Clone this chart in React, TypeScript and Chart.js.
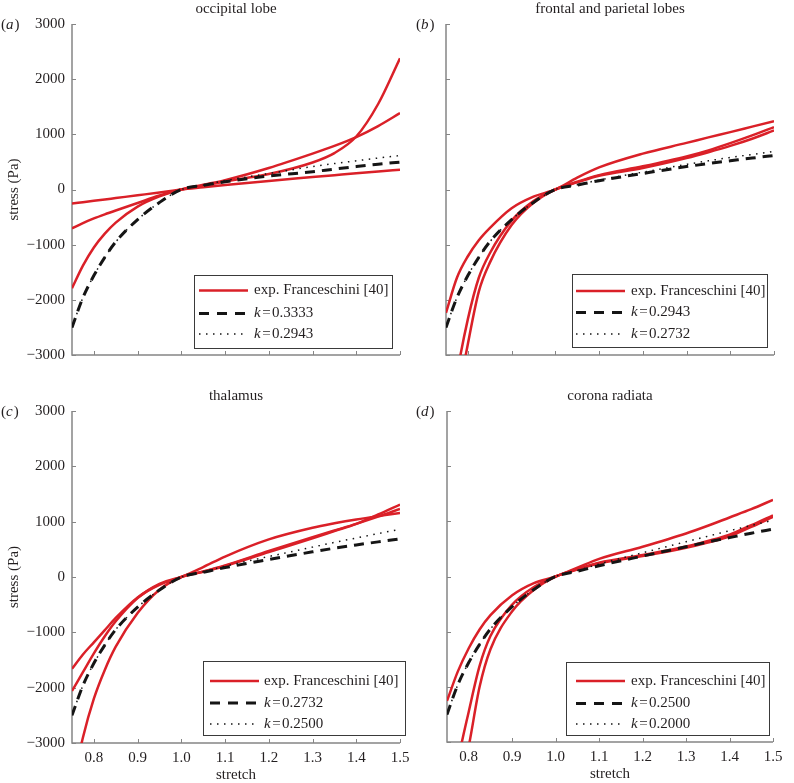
import React, { useEffect, useRef } from 'react';
import { Chart, registerables } from 'chart.js';

Chart.register(...registerables);

// ---------- data ----------
const STRETCH = [0.75, 0.775, 0.8, 0.825, 0.85, 0.9, 0.95, 1.0, 1.05, 1.1, 1.2, 1.3, 1.35, 1.4, 1.45, 1.5];
const X_TICKS = [0.8, 0.9, 1.0, 1.1, 1.2, 1.3, 1.4, 1.5];
const Y_TICKS = [-3000, -2000, -1000, 0, 1000, 2000, 3000];

const TITLES = ['occipital lobe', 'frontal and parietal lobes', 'thalamus', 'corona radiata'];
const PANEL_LETTERS = ['a', 'b', 'c', 'd'];
const LEGEND_EXP = 'exp. Franceschini [40]';
const K_DASH_LABELS = ['0.3333', '0.2943', '0.2732', '0.2500'];
const K_DOT_LABELS = ['0.2943', '0.2732', '0.2500', '0.2000'];
const Y_LABEL = 'stress (Pa)';
const X_LABEL = 'stretch';

// (a) occipital lobe
const A_RED_1 = [-255, -230, -205, -180, -155, -105, -55, 0, 40, 80, 155, 225, 260, 295, 328, 360];
const A_RED_2 = [-705, -610, -525, -450, -380, -245, -110, 0, 85, 170, 390, 650, 790, 950, 1150, 1385];
const A_RED_3 = [-1790, -1380, -1050, -800, -600, -310, -125, 0, 70, 145, 280, 490, 660, 960, 1550, 2380];
const A_K_DASH = [-2500, -1960, -1560, -1230, -950, -545, -235, 0, 75, 140, 245, 322, 370, 415, 458, 497];
const A_K_DOT = [-2500, -1960, -1560, -1230, -950, -545, -235, 0, 80, 160, 290, 415, 470, 520, 570, 615];

// (b) frontal and parietal lobes
const B_RED_1 = [-2235, -1600, -1210, -920, -700, -340, -130, 0, 215, 400, 650, 845, 945, 1040, 1140, 1240];
const B_RED_2 = [-4600, -3350, -2350, -1600, -1160, -565, -210, 0, 140, 260, 420, 600, 710, 840, 980, 1130];
const B_RED_3 = [-5300, -3900, -2800, -1850, -1330, -645, -240, 0, 130, 250, 390, 570, 675, 790, 920, 1070];
const B_K_DASH = [-2500, -1960, -1560, -1230, -950, -545, -235, 0, 80, 160, 290, 415, 470, 520, 570, 615];
const B_K_DOT = [-2500, -1960, -1560, -1230, -950, -545, -235, 0, 85, 170, 315, 455, 520, 580, 635, 690];

// (c) thalamus
const C_RED_1 = [-1660, -1400, -1180, -960, -740, -370, -140, 0, 180, 370, 680, 890, 970, 1040, 1100, 1155];
const C_RED_2 = [-2060, -1720, -1380, -1070, -800, -380, -125, 0, 100, 210, 470, 720, 840, 960, 1090, 1230];
const C_RED_3 = [-3800, -2900, -2200, -1680, -1260, -650, -230, 0, 95, 200, 450, 700, 830, 960, 1130, 1310];
const C_K_DASH = [-2500, -1960, -1560, -1230, -950, -545, -235, 0, 85, 170, 315, 455, 520, 580, 635, 690];
const C_K_DOT = [-2500, -1960, -1560, -1230, -950, -545, -235, 0, 95, 195, 370, 540, 625, 705, 785, 860];

// (d) corona radiata
const D_RED_1 = [-2255, -1720, -1300, -960, -700, -340, -120, 0, 160, 320, 540, 780, 920, 1070, 1220, 1390];
const D_RED_2 = [-4500, -3350, -2450, -1620, -1080, -510, -190, 0, 135, 250, 390, 545, 645, 760, 930, 1110];
const D_RED_3 = [-5200, -4000, -3080, -2000, -1320, -630, -240, 0, 125, 240, 370, 520, 615, 730, 900, 1080];
const D_K_DASH = [-2500, -1960, -1560, -1230, -950, -545, -235, 0, 95, 195, 370, 540, 625, 705, 785, 860];
const D_K_DOT = [-2500, -1960, -1560, -1230, -950, -545, -235, 0, 110, 225, 430, 630, 730, 830, 925, 1020];

// ---------- styling / layout ----------
const W = 794;
const H = 783;
const YW = 60;
const XH = 30;
const RED = 'rgb(218,32,40)';
const BLACK = '#151515';
const AXIS = '#858585';
const TEXT = '#231f20';
const FONT_FAMILY = '"Liberation Serif", "DejaVu Serif", serif';
const FONT_SIZE = 15;
const DASH = [10, 7];
const DOT = [1.5, 5.5];

type Legend = { x0: number; y0: number; x1: number; y1: number; rows: number[]; sx0: number; sx1: number; tx: number };
type Panel = {
  idx: number;
  L: number; T: number; R: number; B: number;
  showX: boolean; showY: boolean;
  labelX: number;
  red: number[][];
  kDash: number[];
  kDot: number[];
  legend: Legend;
};

const PANELS: Panel[] = [
  {
    idx: 0, L: 72, T: 24, R: 400, B: 355, showX: false, showY: true, labelX: 1,
    red: [A_RED_1, A_RED_2, A_RED_3], kDash: A_K_DASH, kDot: A_K_DOT,
    legend: { x0: 194, y0: 275, x1: 392, y1: 348, rows: [290.5, 313.5, 334], sx0: 199, sx1: 248, tx: 254 },
  },
  {
    idx: 1, L: 446, T: 24, R: 774, B: 355, showX: false, showY: false, labelX: 416,
    red: [B_RED_1, B_RED_2, B_RED_3], kDash: B_K_DASH, kDot: B_K_DOT,
    legend: { x0: 572, y0: 274, x1: 767, y1: 347, rows: [291, 312.5, 334], sx0: 576, sx1: 625, tx: 631 },
  },
  {
    idx: 2, L: 72, T: 411, R: 400, B: 743, showX: true, showY: true, labelX: 1,
    red: [C_RED_1, C_RED_2, C_RED_3], kDash: C_K_DASH, kDot: C_K_DOT,
    legend: { x0: 203, y0: 661, x1: 405, y1: 735, rows: [681, 703, 724], sx0: 210, sx1: 259, tx: 264 },
  },
  {
    idx: 3, L: 447, T: 411, R: 773, B: 742, showX: true, showY: false, labelX: 416,
    red: [D_RED_1, D_RED_2, D_RED_3], kDash: D_K_DASH, kDot: D_K_DOT,
    legend: { x0: 566, y0: 662, x1: 769, y1: 735, rows: [681, 703.5, 724], sx0: 576, sx1: 625, tx: 631 },
  },
];

const toXY = (ys: number[]) => STRETCH.map((x, i) => ({ x, y: ys[i] }));
const font = (italic = false) => `${italic ? 'italic ' : ''}${FONT_SIZE}px ${FONT_FAMILY}`;

function makeDecor(p: Panel) {
  return {
    id: 'decor' + p.idx,
    beforeDatasetsDraw(chart: any) {
      const ctx = chart.ctx as CanvasRenderingContext2D;
      const { left, right, top, bottom } = chart.chartArea;
      const xs = chart.scales.x;
      const ys = chart.scales.y;
      ctx.save();
      ctx.strokeStyle = AXIS;
      ctx.lineWidth = 1.5;
      ctx.beginPath();
      ctx.moveTo(left, top);
      ctx.lineTo(left, bottom);
      ctx.lineTo(right, bottom);
      ctx.stroke();
      ctx.lineWidth = 1;
      ctx.beginPath();
      xs.ticks.forEach((t: any) => {
        const px = Math.round(xs.getPixelForValue(t.value)) + 0.5;
        ctx.moveTo(px, bottom);
        ctx.lineTo(px, bottom - 4);
      });
      ys.ticks.forEach((t: any) => {
        const py = Math.round(ys.getPixelForValue(t.value)) + 0.5;
        ctx.moveTo(left, py);
        ctx.lineTo(left + 4, py);
      });
      ctx.stroke();
      ctx.restore();
    },
    afterDraw(chart: any) {
      const ctx = chart.ctx as CanvasRenderingContext2D;
      const { left, right, top, bottom } = chart.chartArea;
      ctx.save();
      ctx.fillStyle = TEXT;
      ctx.textBaseline = 'middle';
      // title
      ctx.font = font();
      ctx.textAlign = 'center';
      ctx.fillText(TITLES[p.idx], (left + right) / 2, top - 15);
      // panel label
      ctx.textAlign = 'left';
      let x = p.labelX;
      ctx.font = font();
      ctx.fillText('(', x, top + 1);
      x += ctx.measureText('(').width;
      ctx.font = font(true);
      ctx.fillText(PANEL_LETTERS[p.idx], x, top + 1);
      x += ctx.measureText(PANEL_LETTERS[p.idx]).width + 1;
      ctx.font = font();
      ctx.fillText(')', x, top + 1);
      // y label
      if (p.showY) {
        ctx.save();
        ctx.translate(14, (top + bottom) / 2);
        ctx.rotate(-Math.PI / 2);
        ctx.textAlign = 'center';
        ctx.font = font();
        ctx.fillText(Y_LABEL, 0, 0);
        ctx.restore();
      }
      // x label
      if (p.showX) {
        ctx.textAlign = 'center';
        ctx.font = font();
        ctx.fillText(X_LABEL, (left + right) / 2, bottom + 32);
      }
      // legend
      const lg = p.legend;
      ctx.fillStyle = '#fff';
      ctx.fillRect(lg.x0, lg.y0, lg.x1 - lg.x0, lg.y1 - lg.y0);
      ctx.strokeStyle = '#3a3a3a';
      ctx.lineWidth = 1;
      ctx.strokeRect(lg.x0 + 0.5, lg.y0 + 0.5, lg.x1 - lg.x0, lg.y1 - lg.y0);
      const sample = (y: number, color: string, width: number, dash: number[]) => {
        ctx.save();
        ctx.strokeStyle = color;
        ctx.lineWidth = width;
        ctx.setLineDash(dash);
        ctx.beginPath();
        ctx.moveTo(lg.sx0, y);
        ctx.lineTo(lg.sx1, y);
        ctx.stroke();
        ctx.restore();
      };
      sample(lg.rows[0], RED, 2.5, []);
      sample(lg.rows[1], BLACK, 3, [10, 8]);
      sample(lg.rows[2], BLACK, 1.5, DOT);
      ctx.fillStyle = TEXT;
      ctx.textAlign = 'left';
      ctx.font = font();
      ctx.fillText(LEGEND_EXP, lg.tx, lg.rows[0]);
      const kText = (y: number, val: string) => {
        let xx = lg.tx;
        ctx.font = font(true);
        ctx.fillText('k', xx, y);
        xx += ctx.measureText('k').width + 1.5;
        ctx.font = font();
        ctx.fillText('=', xx, y);
        xx += ctx.measureText('=').width + 1.5;
        ctx.fillText(val, xx, y);
      };
      kText(lg.rows[1], K_DASH_LABELS[p.idx]);
      kText(lg.rows[2], K_DOT_LABELS[p.idx]);
      ctx.restore();
    },
  };
}

function buildConfig(p: Panel): any {
  const redSets = p.red.map((ys) => ({
    data: toXY(ys),
    borderColor: RED,
    borderWidth: 2.5,
    pointRadius: 0,
    fill: false,
    cubicInterpolationMode: 'monotone',
  }));
  const datasets = [
    {
      data: toXY(p.kDash),
      borderColor: BLACK,
      borderWidth: 3,
      borderDash: DASH,
      pointRadius: 0,
      fill: false,
      cubicInterpolationMode: 'monotone',
    },
    {
      data: toXY(p.kDot),
      borderColor: BLACK,
      borderWidth: 1.5,
      borderDash: DOT,
      pointRadius: 0,
      fill: false,
      cubicInterpolationMode: 'monotone',
    },
    ...redSets,
  ];
  const tickFont = { family: FONT_FAMILY, size: FONT_SIZE };
  return {
    type: 'line',
    data: { datasets },
    options: {
      animation: false,
      responsive: false,
      maintainAspectRatio: false,
      events: [],
      layout: {
        padding: { left: p.L - YW, top: p.T, right: W - p.R, bottom: H - p.B - XH },
      },
      plugins: {
        legend: { display: false },
        tooltip: { enabled: false },
        title: { display: false },
      },
      scales: {
        x: {
          type: 'linear',
          min: 0.75,
          max: 1.5,
          grid: { display: false, drawTicks: false, tickLength: 0 },
          border: { display: false },
          afterBuildTicks: (s: any) => {
            s.ticks = X_TICKS.map((v) => ({ value: v }));
          },
          afterFit: (s: any) => {
            s.height = XH;
          },
          ticks: {
            display: p.showX,
            padding: 6,
            autoSkip: false,
            maxRotation: 0,
            color: TEXT,
            font: tickFont,
            callback: (v: any) => Number(v).toFixed(1),
          },
        },
        y: {
          type: 'linear',
          min: -3000,
          max: 3000,
          grid: { display: false, drawTicks: false, tickLength: 0 },
          border: { display: false },
          afterBuildTicks: (s: any) => {
            s.ticks = Y_TICKS.map((v) => ({ value: v }));
          },
          afterFit: (s: any) => {
            s.width = YW;
          },
          ticks: {
            display: p.showY,
            padding: 7,
            autoSkip: false,
            color: TEXT,
            font: tickFont,
            callback: (v: any) => (Number(v) < 0 ? '\u2212' + Math.abs(Number(v)) : String(v)),
          },
        },
      },
    },
    plugins: [makeDecor(p)],
  };
}

function PanelChart({ p }: { p: Panel }) {
  const ref = useRef<HTMLCanvasElement>(null);
  useEffect(() => {
    if (!ref.current) return;
    const chart = new Chart(ref.current, buildConfig(p));
    return () => chart.destroy();
  }, [p]);
  return (
    <canvas
      ref={ref}
      width={W}
      height={H}
      style={{ position: 'absolute', left: 0, top: 0, width: W, height: H, display: 'block' }}
    />
  );
}

export default function App() {
  return (
    <div style={{ position: 'absolute', left: 0, top: 0, width: W, height: H, background: '#fff' }}>
      {PANELS.map((p) => (
        <PanelChart key={p.idx} p={p} />
      ))}
    </div>
  );
}
